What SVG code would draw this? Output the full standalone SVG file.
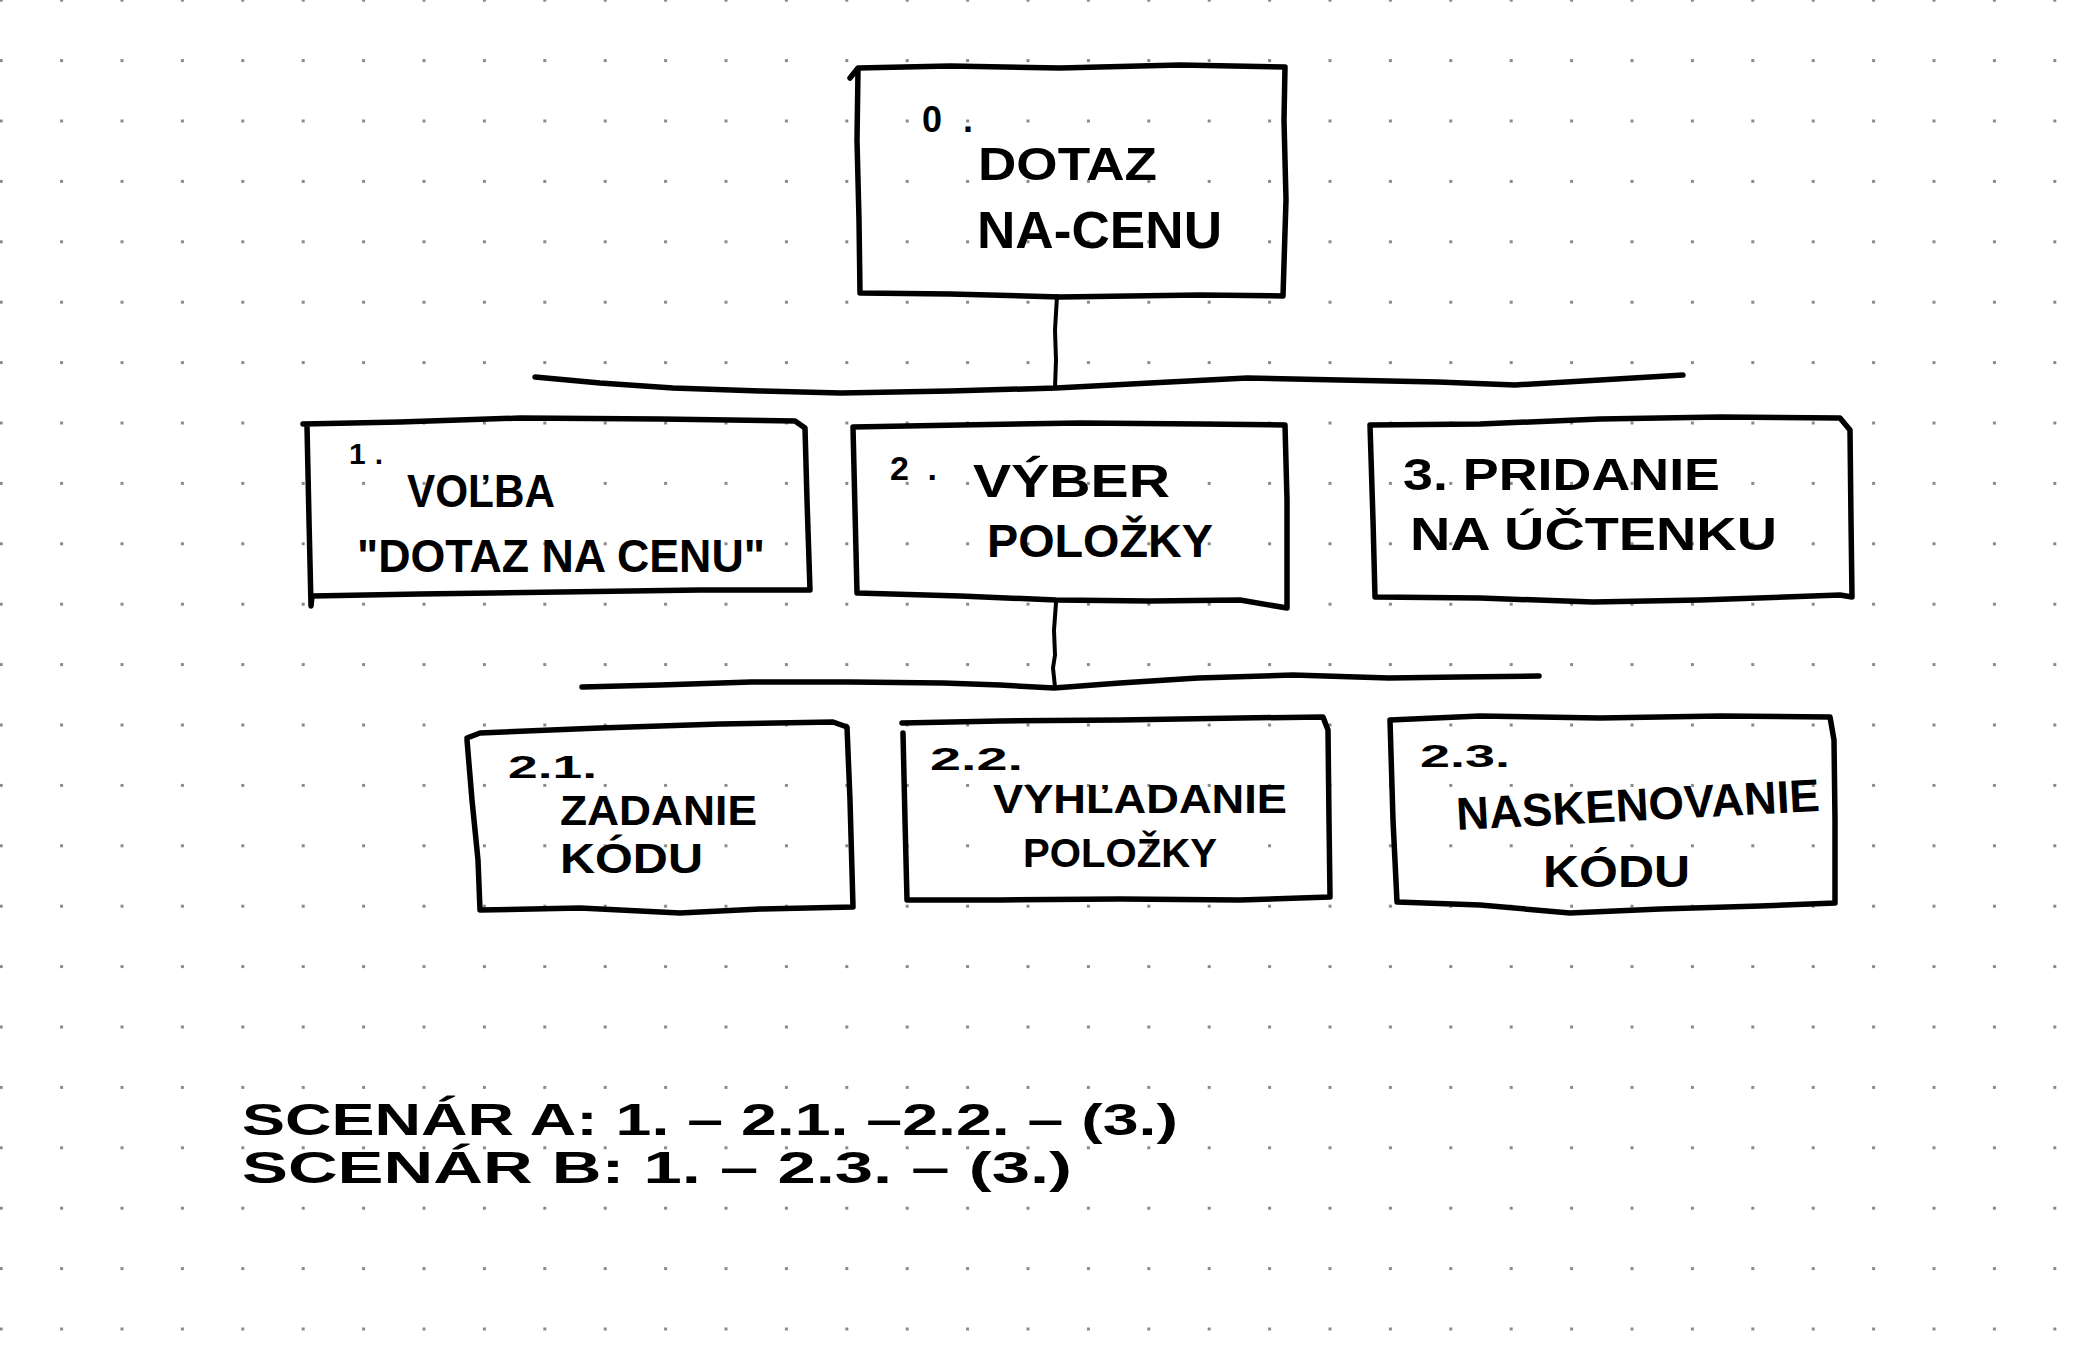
<svg xmlns="http://www.w3.org/2000/svg" width="2077" height="1350" viewBox="0 0 2077 1350">
<defs>
<pattern id="grid" x="-29" y="-30" width="60.4" height="60.4" patternUnits="userSpaceOnUse">
<rect x="28.7" y="28.7" width="3" height="3" fill="#8a8a8a"/>
</pattern>
<style>
.box{fill:none;stroke:#000;stroke-width:5.5;stroke-linejoin:round;stroke-linecap:round}
.con{fill:none;stroke:#000;stroke-width:5.5;stroke-linejoin:round;stroke-linecap:round}
.vcon{fill:none;stroke:#000;stroke-width:4;stroke-linecap:round}
text{font-family:"Liberation Sans","DejaVu Sans",sans-serif;font-weight:bold;fill:#000}
.num{font-size:32px}
.lbl{font-size:46px}
.scn{font-size:44px}
</style>
</defs>
<rect width="2077" height="1350" fill="#fff"/>
<rect width="2077" height="1350" fill="url(#grid)"/>

<g id="connectors">
<path class="vcon" d="M1057 296 L1055 330 L1056 360 L1055 388"/>
<path class="con" d="M535 377 L600 383 L673 388 L760 391 L841 393 L950 391 L1056 388 L1150 383 L1247 378 L1340 380 L1438 382 L1515 385 L1600 380 L1683 375"/>
<path class="vcon" d="M1056 603 L1054 630 L1055 655 L1053 668 L1055 687"/>
<path class="con" d="M582 687 L660 685 L751 682 L850 682 L943 683 L1000 685 L1054 688 L1120 683 L1198 678 L1293 675 L1389 678 L1460 677 L1539 676"/>
</g>

<g id="node-0">
<path class="box" d="M850 78 L858 68 L950 66 L1060 68 L1180 65 L1285 67 L1284 120 L1286 200 L1283 296 L1200 295 L1060 297 L950 294 L860 293 L859 220 L857 140 L858 70"/>
<text class="num" x="922" y="132" style="font-size:36px" textLength="51" lengthAdjust="spacing">0.</text>
<text class="lbl" x="978" y="180" textLength="179" lengthAdjust="spacingAndGlyphs">DOTAZ</text>
<text x="977" y="248" font-size="52" textLength="245" lengthAdjust="spacingAndGlyphs">NA-CENU</text>
</g>

<g id="node-1">
<path class="box" d="M303 424 L400 422 L520 418 L660 419 L795 421 L805 428 L807 500 L810 590 L700 590 L560 592 L420 594 L312 596 L311 606 L309 520 L307 426"/>
<text class="num" x="349" y="464" style="font-size:30px" textLength="34" lengthAdjust="spacing">1.</text>
<text class="lbl" x="407" y="507" textLength="148" lengthAdjust="spacingAndGlyphs">VOĽBA</text>
<text class="lbl" x="357" y="572" textLength="408" lengthAdjust="spacingAndGlyphs">"DOTAZ NA CENU"</text>
</g>

<g id="node-2">
<path class="box" d="M853 427 L960 425 L1080 423 L1200 424 L1285 425 L1287 500 L1287 608 L1240 600 L1150 601 L1056 600 L960 596 L857 593 L855 510 L853 427"/>
<text class="num" x="890" y="480" style="font-size:34px" textLength="47" lengthAdjust="spacing">2.</text>
<text class="lbl" x="973" y="497" textLength="197" lengthAdjust="spacingAndGlyphs">VÝBER</text>
<text class="lbl" x="987" y="557" textLength="226" lengthAdjust="spacingAndGlyphs">POLOŽKY</text>
</g>

<g id="node-3">
<path class="box" d="M1370 425 L1480 424 L1600 419 L1720 417 L1840 418 L1850 430 L1851 520 L1852 597 L1840 595 L1700 600 L1593 602 L1480 598 L1375 597 L1373 520 L1370 425"/>
<text x="1403" y="490" font-size="44" textLength="317" lengthAdjust="spacingAndGlyphs">3. PRIDANIE</text>
<text class="lbl" x="1410" y="550" textLength="367" lengthAdjust="spacingAndGlyphs">NA ÚČTENKU</text>
</g>

<g id="node-2-1">
<path class="box" d="M467 738 L480 733 L600 728 L720 724 L833 722 L847 727 L850 800 L853 907 L760 909 L680 913 L580 908 L480 910 L478 860 L472 800 L467 740"/>
<text class="num" x="508" y="778" textLength="89" lengthAdjust="spacingAndGlyphs">2.1.</text>
<text x="560" y="825" font-size="42" textLength="197" lengthAdjust="spacingAndGlyphs">ZADANIE</text>
<text x="560" y="873" font-size="42" textLength="143" lengthAdjust="spacingAndGlyphs">KÓDU</text>
</g>

<g id="node-2-2">
<path class="box" d="M902 723 L1000 721 L1120 720 L1240 718 L1323 717 L1328 730 L1329 820 L1330 897 L1240 900 L1120 899 L1000 900 L907 900 L905 820 L903 733"/>
<text class="num" x="930" y="770" textLength="93" lengthAdjust="spacingAndGlyphs">2.2.</text>
<text x="993" y="813" font-size="40" textLength="294" lengthAdjust="spacingAndGlyphs">VYHĽADANIE</text>
<text x="1023" y="867" font-size="40" textLength="194" lengthAdjust="spacingAndGlyphs">POLOŽKY</text>
</g>

<g id="node-2-3">
<path class="box" d="M1390 720 L1480 716 L1600 718 L1720 716 L1830 717 L1834 740 L1835 820 L1835 903 L1760 906 L1660 909 L1570 913 L1480 905 L1397 902 L1393 820 L1390 720"/>
<text x="1420" y="767" font-size="32" textLength="90" lengthAdjust="spacingAndGlyphs">2.3.</text>
<text x="1457" y="830" font-size="46" textLength="364" lengthAdjust="spacingAndGlyphs" transform="rotate(-3 1457 830)">NASKENOVANIE</text>
<text x="1543" y="887" font-size="44" textLength="147" lengthAdjust="spacingAndGlyphs">KÓDU</text>
</g>

<g id="scenarios">
<text class="scn" x="242" y="1135" textLength="936" lengthAdjust="spacingAndGlyphs">SCENÁR A: 1. – 2.1. –2.2. – (3.)</text>
<text class="scn" x="242" y="1183" textLength="830" lengthAdjust="spacingAndGlyphs">SCENÁR B: 1. – 2.3. – (3.)</text>
</g>
</svg>
